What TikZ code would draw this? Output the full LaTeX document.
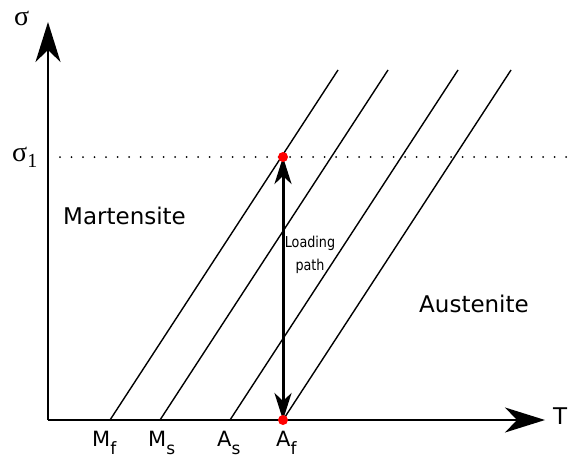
\documentclass[tikz,border=0pt]{standalone}
\usepackage{fontspec}
\setmainfont{DejaVu Sans}
\newfontfamily\greekfont{Liberation Serif}
\usetikzlibrary{arrows.meta}
\definecolor{dotred}{HTML}{FF0000}
\newcommand{\lowidx}[1]{\raisebox{-0.4em}{\fontsize{17}{17}\selectfont #1}}

\begin{document}
\begin{tikzpicture}[x=1pt, y=-1pt,
  axis/.style={line width=2pt, -{Stealth[length=40pt, width=25pt, inset=12pt]}},
  phaseline/.style={line width=1.4pt},
  loadarrow/.style={line width=3pt, {Stealth[length=27pt, width=17pt, inset=8pt]}-{Stealth[length=27pt, width=17pt, inset=8pt]}},
  bigtext/.style={font=\fontsize{23}{26}\selectfont, anchor=base west, inner sep=0pt},
  templabel/.style={font=\fontsize{21}{24}\selectfont, anchor=base west, inner sep=0pt},
  greeklabel/.style={font=\greekfont\fontsize{28}{30}\selectfont, anchor=base west, inner sep=0pt},
  smalltext/.style={font=\fontsize{15}{23}\selectfont, align=center}]

%% Page
\useasboundingbox (0,0) rectangle (569,460);

%% Axes
\coordinate (origin) at (48,420);
\coordinate (ytip) at (48,22);
\coordinate (xtip) at (545,420);
\draw[axis] (origin) -- (ytip);
\draw[axis] (origin) -- (xtip);
\node[greeklabel] (sig) at (14,26) {σ};
\node[bigtext] (tlab) at (553,424) {T};

%% Stress level
\node[greeklabel] (sigone) at (12,161) {σ\raisebox{-0.22em}{\fontsize{20}{20}\selectfont 1}};
\coordinate (dotl) at (60,157);
\coordinate (dotr) at (570,157);
\draw[line width=2pt, line cap=round, dash pattern=on 0pt off 11.5pt] (dotl) -- (dotr);

%% Transformation lines
\foreach \nm/\xb in {mf/110, ms/160, as/230, af/283}{
  \coordinate (\nm bot) at (\xb,420);
  \coordinate (\nm top) at (\xb+228,70);
  \draw[phaseline] (\nm bot) -- (\nm top);
}

%% Temperature labels
\node[templabel] (mflab) at (92,446) {M\lowidx{f}};
\node[templabel] (mslab) at (148,446) {M\lowidx{s}};
\node[templabel] (aslab) at (217,446) {A\lowidx{s}};
\node[templabel] (aflab) at (276,446) {A\lowidx{f}};

%% Phases
\node[bigtext] (mart) at (63,224) {Martensite};
\node[bigtext] (aust) at (419,312) {Austenite};

%% Loading path
\coordinate (ldtop) at (283,157);
\coordinate (ldbot) at (283,420);
\draw[loadarrow] (ldbot) -- (ldtop);
\fill[dotred] (ldtop) circle (5);
\fill[dotred] (ldbot) circle (5);
\node[smalltext] (ldtext) at (310,255) {\scalebox{0.85}[1]{Loading}\\\scalebox{0.85}[1]{path}};

\end{tikzpicture}
\end{document}
